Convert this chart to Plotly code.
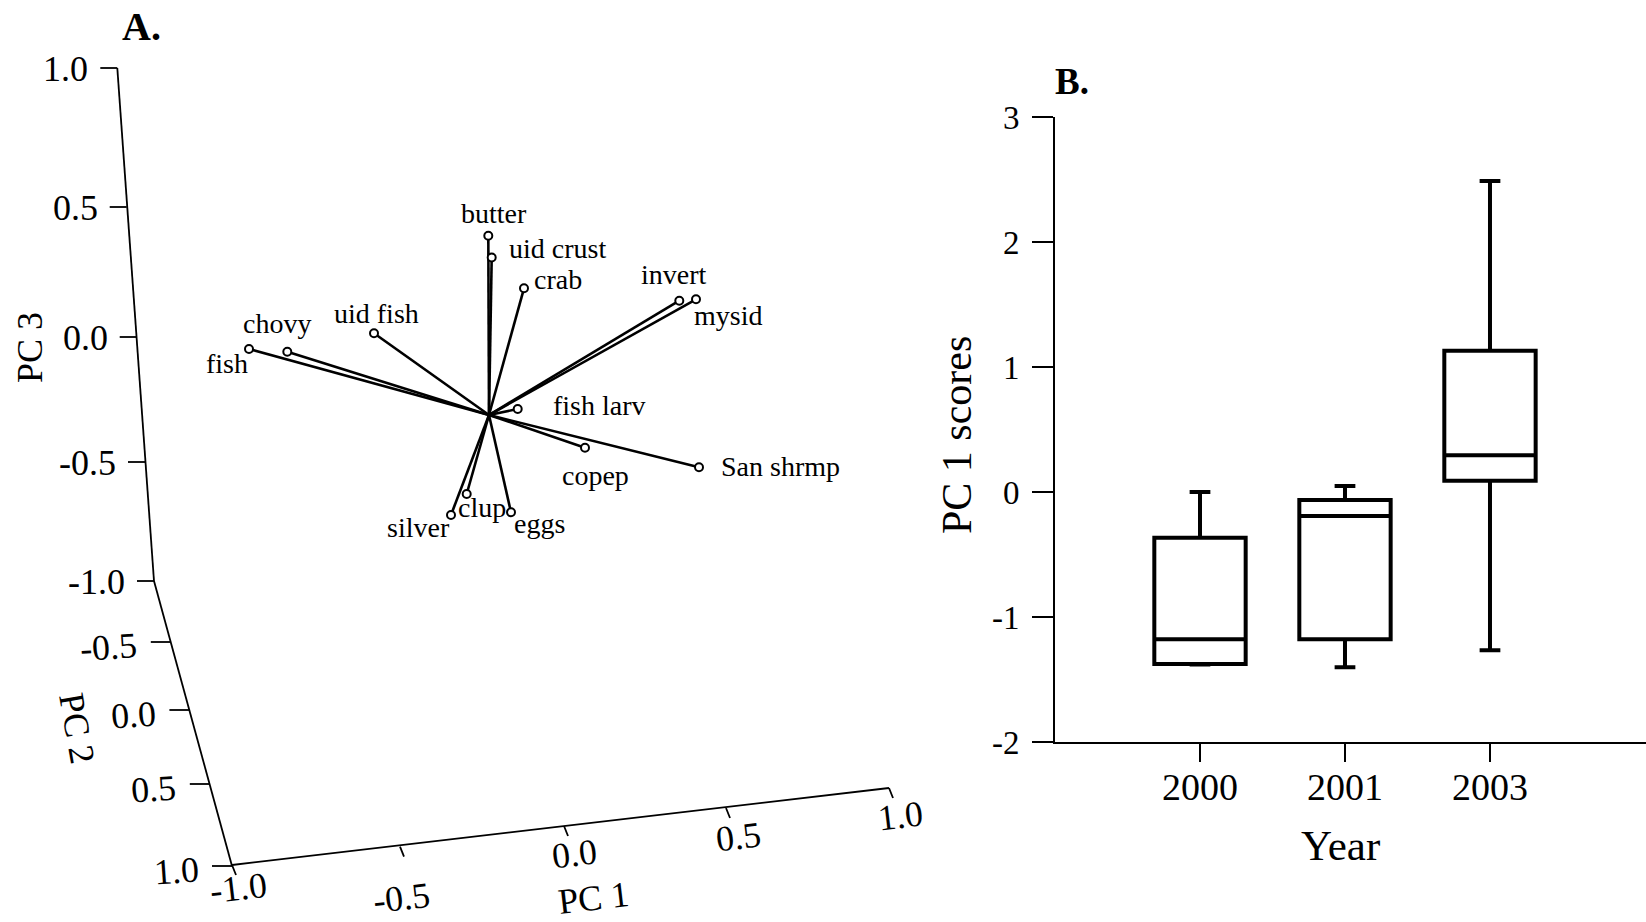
import plotly.graph_objects as go

W, H = 1646, 922
SERIF = "Liberation Serif, Times New Roman, Times, serif"

# ---------------- Panel A: PCA loading vectors (projected 3-D view) ----------------
species = ["butter", "uid crust", "crab", "invert", "mysid", "fish larv", "copep",
           "San shrmp", "clup", "silver", "eggs", "uid fish", "chovy", "fish"]
# vector tips in the projected drawing frame of the 3-D view
tip_x = [488.3, 491.7, 524.0, 679.3, 696.0, 517.7, 585.0, 699.0, 466.7, 451.0, 511.0, 374.0, 287.3, 249.0]
tip_y = [235.7, 257.5, 288.3, 300.7, 299.3, 409.0, 447.7, 467.3, 494.0, 515.0, 512.3, 333.3, 351.7, 349.0]
origin_x, origin_y = 489.0, 415.0

pc_tick_values = [-1.0, -0.5, 0.0, 0.5, 1.0]
pc_tick_labels = ["-1.0", "-0.5", "0.0", "0.5", "1.0"]
# projected positions of the axis ticks (PC1, PC2, PC3 edges of the 3-D box)
pc1_axis_x = [232.0, 400.0, 564.0, 726.0, 889.0]
pc1_axis_y = [865.0, 846.7, 826.0, 808.0, 788.0]
pc2_axis_x = [154.0, 170.8, 189.4, 209.8, 232.0]
pc2_axis_y = [581.0, 642.0, 710.0, 784.0, 866.0]
pc3_axis_x = [154.0, 145.0, 136.7, 126.7, 117.3]
pc3_axis_y = [581.0, 462.0, 337.0, 207.0, 68.0]

# ---------------- Panel B: PC 1 scores by year ----------------
years = ["2000", "2001", "2003"]
q1 = [-1.376, -1.178, 0.09]
median = [-1.178, -0.192, 0.294]
q3 = [-0.365, -0.064, 1.13]
lower_whisker = [-1.38, -1.402, -1.266]
upper_whisker = [0.0, 0.048, 2.488]
score_ticks = [-2, -1, 0, 1, 2, 3]
score_tick_labels = ["-2", "-1", "0", "1", "2", "3"]

# ---------------- styling / placement ----------------
label_dx = [5.7, 65.3, 34.0, -5.3, 32.0, 81.3, 10.0, 81.0, 15.3, -33.0, 28.0, 2.0, -10.3, -22.0]
label_dy = [-22.7, -9.5, -9.3, -26.7, 15.7, -4.0, 27.3, -1.3, 13.0, 12.0, 10.7, -20.3, -28.7, 14.0]
pc1_lab_dx = [6, 1, 10, 12, 11]
pc1_lab_dy = [23, 51, 28, 29, 28]

fig = go.Figure()

# vectors
vx, vy = [], []
for x, y in zip(tip_x, tip_y):
    vx += [origin_x, x, None]
    vy += [origin_y, y, None]
fig.add_trace(go.Scatter(x=vx, y=vy, mode="lines", line=dict(color="black", width=2.6),
                         xaxis="x2", yaxis="y2", showlegend=False, hoverinfo="skip"))
fig.add_trace(go.Scatter(x=tip_x, y=tip_y, mode="markers", text=species,
                         marker=dict(symbol="circle", size=8, color="white",
                                     line=dict(color="black", width=2)),
                         xaxis="x2", yaxis="y2", showlegend=False))

# 3-D box axes
for ax_x, ax_y in [(pc1_axis_x, pc1_axis_y), (pc2_axis_x, pc2_axis_y), (pc3_axis_x, pc3_axis_y)]:
    fig.add_trace(go.Scatter(x=[ax_x[0], ax_x[-1]], y=[ax_y[0], ax_y[-1]], mode="lines",
                             line=dict(color="black", width=1.8), xaxis="x2", yaxis="y2",
                             showlegend=False, hoverinfo="skip"))

def tick_segments(ax_x, ax_y, dx, dy, skip_first=False):
    xs, ys = [], []
    for i, (x, y) in enumerate(zip(ax_x, ax_y)):
        if skip_first and i == 0:
            continue
        xs += [x, x + dx, None]
        ys += [y, y + dy, None]
    return xs, ys

for (xs, ys) in [tick_segments(pc3_axis_x, pc3_axis_y, -17, 0),
                 tick_segments(pc2_axis_x, pc2_axis_y, -20, 0, skip_first=True),
                 tick_segments(pc1_axis_x, pc1_axis_y, 4, 10)]:
    fig.add_trace(go.Scatter(x=xs, y=ys, mode="lines", line=dict(color="black", width=1.8),
                             xaxis="x2", yaxis="y2", showlegend=False, hoverinfo="skip"))

annotations = []

def ann(x, y, text, size, angle=0, xanchor="center", bold=False):
    annotations.append(dict(x=x, y=y, xref="x2", yref="y2", text=f"<b>{text}</b>" if bold else text,
                            showarrow=False, xanchor=xanchor, yanchor="middle", textangle=angle,
                            font=dict(family=SERIF, size=size, color="black")))

for name, x, y, dx, dy in zip(species, tip_x, tip_y, label_dx, label_dy):
    ann(x + dx, y + dy, name, 28)

for i, lab in enumerate(pc_tick_labels):
    ann(pc3_axis_x[i] - 27, pc3_axis_y[i] + 1, lab, 36, xanchor="right")
    if i > 0:
        ann(pc2_axis_x[i] - 30, pc2_axis_y[i] + 5, lab, 36, angle=-4, xanchor="right")
    ann(pc1_axis_x[i] + pc1_lab_dx[i], pc1_axis_y[i] + pc1_lab_dy[i], lab, 36, angle=-6.7)

ann(593, 898, "PC 1", 36, angle=-6.7)
ann(77, 728, "PC 2", 36, angle=80)
ann(30, 348, "PC 3", 36, angle=-90)
ann(141, 26, "A.", 40, bold=True)

# Panel B
fig.add_trace(go.Box(x=years, q1=q1, median=median, q3=q3, lowerfence=lower_whisker,
                     upperfence=upper_whisker, boxpoints=False, fillcolor="white",
                     line=dict(color="black", width=4), width=0.63, whiskerwidth=0.227,
                     xaxis="x", yaxis="y", showlegend=False))

ann(1072, 81, "B.", 37, bold=True)
ann(957, 435, "PC 1 scores", 42, angle=-90)
ann(1340, 845, "Year", 43)

fig.update_layout(
    template="none",
    width=W, height=H, autosize=False,
    margin=dict(l=0, r=0, t=0, b=0, pad=0, autoexpand=False),
    paper_bgcolor="white", plot_bgcolor="rgba(0,0,0,0)",
    showlegend=False,
    annotations=annotations,
    xaxis=dict(domain=[1055 / W, 1.0], type="category", range=[-1.0, 3.076],
               showline=True, linecolor="black", linewidth=1.8, ticks="outside",
               ticklen=18, tickwidth=1.5, tickcolor="black", showgrid=False, zeroline=False,
               tickfont=dict(family=SERIF, size=38, color="black"), ticklabelstandoff=-8,
               automargin=False, anchor="y"),
    yaxis=dict(domain=[1 - 742 / H, 1 - 117 / H], range=[-2, 3], tickvals=score_ticks,
               ticktext=score_tick_labels, showline=True, linecolor="black", linewidth=1.8,
               ticks="outside", ticklen=21, tickwidth=1.5, tickcolor="black",
               showgrid=False, zeroline=False, ticklabelstandoff=6,
               tickfont=dict(family=SERIF, size=33, color="black"), automargin=False, anchor="x"),
    xaxis2=dict(domain=[0, 1], range=[0, W], visible=False, anchor="y2", automargin=False),
    yaxis2=dict(domain=[0, 1], range=[H, 0], visible=False, anchor="x2", automargin=False),
)

fig.write_html("out.html")
